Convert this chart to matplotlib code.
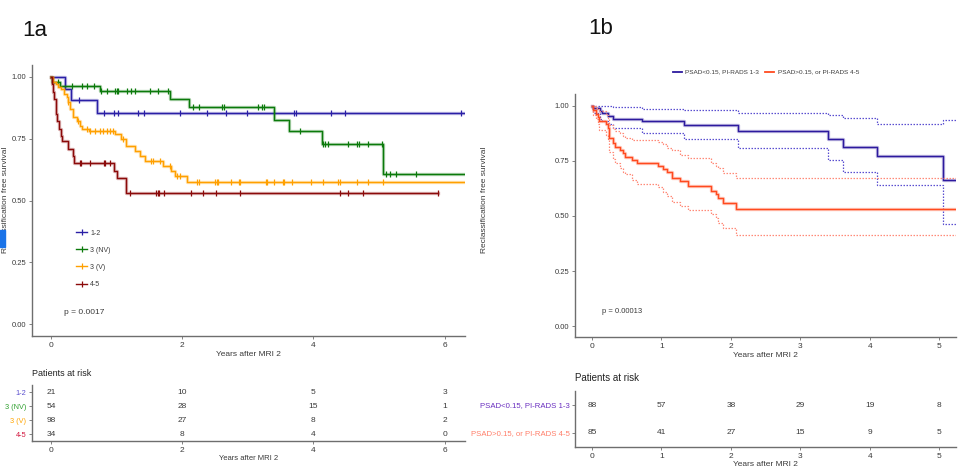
import numpy as np
import matplotlib
matplotlib.use("Agg")
import matplotlib.pyplot as plt
from matplotlib.lines import Line2D
from matplotlib.patches import Rectangle

plt.rcParams['font.family'] = ['Liberation Sans Narrow', 'Liberation Sans', 'DejaVu Sans']

# ---------------- panel 1a data ----------------
groups_a = ["1-2", "3 (NV)", "3 (V)", "4-5"]
colors_a = ["#2a1fa6", "#0b7a0b", "#ffa000", "#8b0a0a"]
label_colors_a = ["#5a4fcf", "#2ea02e", "#ffa500", "#d2143c"]

t_12 = [0, 0.22, 0.30, 0.70, 6.31]
s_12 = [1.0, 0.952, 0.905, 0.853, 0.853]
c_12 = [0.43, 0.81, 0.96, 1.02, 1.32, 1.42, 1.97, 2.38, 2.67, 2.99, 3.71, 3.74, 4.27, 4.48, 6.25]

t_nv = [0, 0.02, 0.14, 0.74, 1.82, 2.10, 3.40, 3.63, 4.13, 5.06, 6.31]
s_nv = [1.0, 0.981, 0.963, 0.942, 0.911, 0.879, 0.827, 0.780, 0.727, 0.606, 0.606]
c_nv = [0.11, 0.32, 0.48, 0.55, 0.66, 0.76, 0.86, 0.97, 1.0, 1.02, 1.16, 1.22, 1.28, 1.51,
        1.63, 1.78, 2.16, 2.26, 2.60, 2.64, 3.16, 3.21, 3.25, 3.80, 4.14, 4.18, 4.22, 4.53,
        4.67, 4.70, 4.83, 5.04, 5.10, 5.17, 5.26, 5.57]

t_v = [0, 0.035, 0.07, 0.11, 0.15, 0.20, 0.24, 0.26, 0.29, 0.33, 0.39, 0.44, 0.48, 0.58,
       0.98, 1.06, 1.14, 1.28, 1.35, 1.44, 1.71, 1.83, 1.89, 2.08, 6.31]
s_v = [1.0, 0.98, 0.97, 0.96, 0.95, 0.93, 0.92, 0.90, 0.87, 0.84, 0.82, 0.80, 0.79, 0.78,
       0.77, 0.75, 0.72, 0.70, 0.68, 0.66, 0.64, 0.62, 0.60, 0.575, 0.575]
c_v = [0.26, 0.41, 0.55, 0.59, 0.67, 0.75, 0.80, 0.85, 0.90, 0.95, 1.10, 1.53, 1.56, 1.66,
       1.81, 1.92, 1.97, 2.22, 2.25, 2.50, 2.53, 2.55, 2.75, 2.86, 2.88, 3.27, 3.29, 3.40,
       3.53, 3.55, 3.68, 3.96, 4.15, 4.38, 4.41, 4.66, 4.83, 5.06]

t_45 = [0, 0.02, 0.03, 0.05, 0.07, 0.08, 0.09, 0.12, 0.15, 0.17, 0.26, 0.33, 0.35,
        0.96, 1.00, 1.14, 5.90]
s_45 = [1.0, 0.97, 0.94, 0.91, 0.88, 0.85, 0.82, 0.79, 0.76, 0.74, 0.71, 0.68, 0.65,
        0.62, 0.59, 0.53, 0.53]
c_45 = [0.44, 0.46, 0.60, 0.81, 0.83, 0.90, 1.20, 1.60, 1.63, 1.65, 1.73, 2.13, 2.32,
        2.52, 2.88, 4.40, 4.52, 4.75, 5.90]

risk_times_a = [0, 2, 4, 6]
risk_a = [[21, 10, 5, 3],
          [54, 28, 15, 1],
          [98, 27, 8, 2],
          [34, 8, 4, 0]]

# ---------------- panel 1b data ----------------
groups_b = ["PSAD<0.15, PI-RADS 1-3", "PSAD>0.15, or PI-RADS 4-5"]
colors_b = ["#2d1a9e", "#ff4a1f"]
ci_colors_b = ["#5a4fd0", "#ff8a78"]
label_colors_b = ["#6a2fc0", "#ff7f6a"]

t_lo = [0, 0.02, 0.11, 0.14, 0.23, 0.30, 0.72, 1.33, 2.10, 3.40, 3.62, 4.11, 5.05, 5.25]
s_lo = [1.0, 0.99, 0.977, 0.966, 0.955, 0.943, 0.93, 0.912, 0.886, 0.85, 0.815, 0.773, 0.665, 0.665]
up_lo = [1.0, 1.0, 1.0, 1.0, 1.0, 0.995, 0.985, 0.98, 0.97, 0.96, 0.945, 0.92, 0.935, 0.935]
dn_lo = [1.0, 0.97, 0.94, 0.93, 0.92, 0.90, 0.875, 0.85, 0.81, 0.755, 0.70, 0.64, 0.465, 0.465]

t_hi = [0, 0.02, 0.05, 0.08, 0.10, 0.20, 0.23, 0.25, 0.30, 0.33, 0.40, 0.45, 0.48, 0.58,
        0.65, 0.95, 1.02, 1.08, 1.15, 1.27, 1.38, 1.72, 1.78, 1.82, 1.88, 2.08, 5.25]
s_hi = [1.0, 0.98, 0.965, 0.95, 0.93, 0.92, 0.90, 0.853, 0.83, 0.815, 0.80, 0.785, 0.77, 0.755,
        0.742, 0.728, 0.715, 0.70, 0.673, 0.66, 0.635, 0.615, 0.60, 0.583, 0.557, 0.53, 0.53]
up_hi = [1.0, 1.0, 0.99, 0.985, 0.975, 0.96, 0.945, 0.915, 0.895, 0.885, 0.875, 0.865, 0.855, 0.845,
         0.845, 0.835, 0.825, 0.81, 0.80, 0.777, 0.762, 0.74, 0.728, 0.716, 0.694, 0.674, 0.674]
dn_hi = [1.0, 0.96, 0.94, 0.92, 0.89, 0.87, 0.85, 0.79, 0.76, 0.74, 0.72, 0.70, 0.69, 0.665,
         0.645, 0.63, 0.61, 0.59, 0.565, 0.545, 0.525, 0.51, 0.49, 0.47, 0.445, 0.415, 0.415]

risk_times_b = [0, 1, 2, 3, 4, 5]
risk_b = [[88, 57, 38, 29, 19, 8],
          [85, 41, 27, 15, 9, 5]]

AX_GREY = "#6e6e6e"
TXT = "#3a3a3a"


def style(ax, ysize=5.5):
    for s in ["top", "right"]:
        ax.spines[s].set_visible(False)
    for s in ["left", "bottom"]:
        ax.spines[s].set_color(AX_GREY)
        ax.spines[s].set_linewidth(1.0)
    ax.tick_params(colors=AX_GREY, labelcolor=TXT, labelsize=6, length=2, width=0.6, pad=2)
    ax.tick_params(axis="y", labelsize=ysize)


def km(ax, t, s, col, cens=None):
    ax.step(t, s, where="post", color=col, lw=2.4, alpha=0.3)
    ax.step(t, s, where="post", color=col, lw=1.0)
    if cens is not None:
        idx = np.searchsorted(t, cens, side="right") - 1
        ax.plot(cens, np.array(s)[idx], ls="none", marker="|", ms=4.5, mew=0.9, color=col)


fig = plt.figure(figsize=(9.6, 4.74), dpi=100)

# ---------------- 1a ----------------
ax1 = fig.add_axes([0.0333, 0.2911, 0.451, 0.5718])
style(ax1)
for t, s, c, col in zip([t_12, t_nv, t_v, t_45], [s_12, s_nv, s_v, s_45],
                        [c_12, c_nv, c_v, c_45], colors_a):
    km(ax1, t, s, col, c)
ax1.set_xlim(-0.29, 6.31)
ax1.set_ylim(-0.0486, 1.0486)
ax1.set_xticks([0, 2, 4, 6])
ax1.set_yticks([0, 0.25, 0.5, 0.75, 1.0])
ax1.set_yticklabels(["0.00", "0.25", "0.50", "0.75", "1.00"])
ax1.set_xlabel("Years after MRI 2", fontsize=6, color=TXT, labelpad=2)
ax1.text(0.2, 0.048, "p = 0.0017", fontsize=6, color=TXT, va="center")
handles = [Line2D([0], [0], color=c, lw=1.0, marker="|", ms=4, mew=0.9) for c in colors_a]
ax1.legend(handles, groups_a, loc="upper left", bbox_to_anchor=(0.088, 0.415), frameon=False,
           fontsize=5, handlelength=1.6, handletextpad=0.4, labelspacing=1.45,
           labelcolor=TXT)

r1 = fig.add_axes([0.0333, 0.0696, 0.451, 0.118])
style(r1, ysize=5.3)
r1.set_xlim(-0.29, 6.31)
r1.set_ylim(3.5, -0.5)
r1.set_xticks(risk_times_a)
r1.set_yticks(range(len(groups_a)))
r1.set_yticklabels(groups_a)
for lab, c in zip(r1.get_yticklabels(), label_colors_a):
    lab.set_color(c)
for i, row in enumerate(risk_a):
    for x, n in zip(risk_times_a, row):
        r1.text(x, i, str(n), ha="center", va="center", fontsize=6, color=TXT)
r1.set_xlabel("Years after MRI 2", fontsize=5.5, color=TXT, labelpad=1)
fig.text(32 / 960, 1 - 373 / 474, "Patients at risk", fontsize=6.5, color="#222222", va="center")

fig.text(6 / 960, 1 - 200 / 474, "Reclassification free survival", rotation=90,
         fontsize=6, color=TXT, ha="center", va="center")
fig.text(22 / 960, 1 - 30 / 474, "1a", fontsize=16, color="#111111", va="center")
fig.patches.append(Rectangle((0, 1 - 247 / 474), 5 / 960, 17 / 474, transform=fig.transFigure,
                             color="#1a73e8", zorder=5))

# ---------------- 1b ----------------
ax2 = fig.add_axes([0.599, 0.289, 0.397, 0.5127])
style(ax2)
for t, s, up, dn, col, cic in zip([t_lo, t_hi], [s_lo, s_hi], [up_lo, up_hi], [dn_lo, dn_hi],
                                  colors_b, ci_colors_b):
    ax2.step(t, up, where="post", color=cic, lw=0.9, ls=(0, (1.2, 1.2)))
    ax2.step(t, dn, where="post", color=cic, lw=0.9, ls=(0, (1.2, 1.2)))
    km(ax2, t, s, col)
ax2.set_xlim(-0.245, 5.245)
ax2.set_ylim(-0.05, 1.0545)
ax2.set_xticks(risk_times_b)
ax2.set_yticks([0, 0.25, 0.5, 0.75, 1.0])
ax2.set_yticklabels(["0.00", "0.25", "0.50", "0.75", "1.00"])
ax2.set_xlabel("Years after MRI 2", fontsize=6, color=TXT, labelpad=2)
ax2.text(0.15, 0.065, "p = 0.00013", fontsize=5.5, color=TXT, va="center")
handles_b = [Line2D([0], [0], color=c, lw=1.3) for c in colors_b]
fig.legend(handles_b, groups_b, loc="center", bbox_to_anchor=(766 / 960, 1 - 72 / 474),
           ncol=2, frameon=False, fontsize=4.6, handlelength=1.4, handletextpad=0.5,
           columnspacing=1.0, labelcolor=TXT)

r2 = fig.add_axes([0.599, 0.057, 0.397, 0.118])
style(r2, ysize=5.6)
r2.set_xlim(-0.245, 5.245)
r2.set_ylim(1.5, -0.5)
r2.set_xticks(risk_times_b)
r2.set_yticks(range(len(groups_b)))
r2.set_yticklabels(groups_b)
for lab, c in zip(r2.get_yticklabels(), label_colors_b):
    lab.set_color(c)
for i, row in enumerate(risk_b):
    for x, n in zip(risk_times_b, row):
        r2.text(x, i, str(n), ha="center", va="center", fontsize=6, color=TXT)
r2.set_xlabel("Years after MRI 2", fontsize=6, color=TXT, labelpad=1)
fig.text(575 / 960, 1 - 378 / 474, "Patients at risk", fontsize=7, color="#222222", va="center")

fig.text(484 / 960, 1 - 200 / 474, "Reclassification free survival", rotation=90,
         fontsize=6, color=TXT, ha="center", va="center")
fig.text(588 / 960, 1 - 28 / 474, "1b", fontsize=16, color="#111111", va="center")

fig.savefig("out.png", dpi=100)
